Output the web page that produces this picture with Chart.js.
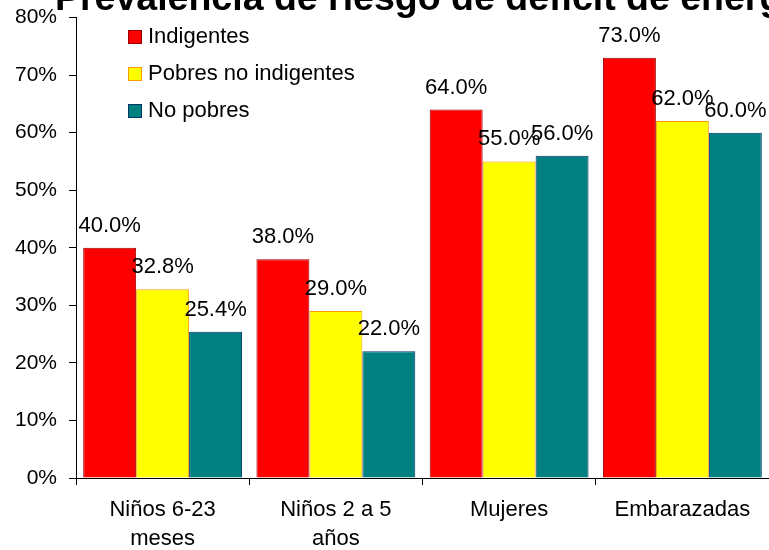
<!DOCTYPE html>
<html>
<head>
<meta charset="utf-8">
<script src="https://cdn.jsdelivr.net/npm/chart.js@4.4.1/dist/chart.umd.min.js"></script>
<style>
  html, body { margin: 0; padding: 0; background: #ffffff; }
  #wrap { width: 769px; height: 550px; overflow: hidden; }
</style>
</head>
<body>
<div id="wrap"><canvas id="c" width="769" height="550"></canvas></div>
<script>
// Population groups on the category axis (multi-line labels)
const categories = [["Niños 6-23", "meses"], ["Niños 2 a 5", "años"], ["Mujeres"], ["Embarazadas"]];

// Prevalence (%) per poverty level
const indigentes = [40.0, 38.0, 64.0, 73.0];
const pobresNoIndigentes = [32.8, 29.0, 55.0, 62.0];
const noPobres = [25.4, 22.0, 56.0, 60.0];

const seriesNames = ["Indigentes", "Pobres no indigentes", "No pobres"];
const yTicks = [0, 10, 20, 30, 40, 50, 60, 70, 80];

const titleText = "Prevalencia de riesgo de déficit de energía";
const FONT = "Arial, 'Liberation Sans', sans-serif";

// Heading drawn at the very top edge of the canvas
const titlePlugin = {
  id: 'topTitle',
  afterDraw(chart) {
    const ctx = chart.ctx;
    ctx.save();
    ctx.font = "bold 37.5px " + FONT;
    ctx.fillStyle = "#000";
    ctx.textAlign = "left";
    ctx.textBaseline = "alphabetic";
    ctx.fillText(titleText, 55, 10);
    ctx.restore();
  }
};

// Value labels above each bar
const valueLabels = {
  id: 'valueLabels',
  afterDatasetsDraw(chart) {
    const ctx = chart.ctx;
    ctx.save();
    ctx.font = "22px " + FONT;
    ctx.fillStyle = "#000";
    ctx.textAlign = "center";
    ctx.textBaseline = "alphabetic";
    chart.data.datasets.forEach((ds, i) => {
      const meta = chart.getDatasetMeta(i);
      meta.data.forEach((bar, j) => {
        ctx.fillText(ds.data[j].toFixed(1) + "%", bar.x, bar.y - 16);
      });
    });
    ctx.restore();
  }
};

// Legend inside the plot area, upper left
const innerLegend = {
  id: 'innerLegend',
  afterDraw(chart) {
    const ctx = chart.ctx;
    ctx.save();
    ctx.font = "22px " + FONT;
    ctx.textAlign = "left";
    ctx.textBaseline = "alphabetic";
    chart.data.datasets.forEach((ds, i) => {
      const y = 30 + i * 37;
      ctx.fillStyle = ds.backgroundColor;
      ctx.fillRect(128, y, 14, 14);
      ctx.strokeStyle = ds.borderColor;
      ctx.lineWidth = 1;
      ctx.strokeRect(128.5, y + 0.5, 13, 13);
      ctx.fillStyle = "#000";
      ctx.fillText(ds.label, 148, y + 12.5);
    });
    ctx.restore();
  }
};

new Chart(document.getElementById('c'), {
  type: 'bar',
  data: {
    labels: categories,
    datasets: [
      { label: seriesNames[0], data: indigentes, backgroundColor: "#FF0000", borderColor: "#990000", borderWidth: 1 },
      { label: seriesNames[1], data: pobresNoIndigentes, backgroundColor: "#FFFF00", borderColor: "#FF9900", borderWidth: 1 },
      { label: seriesNames[2], data: noPobres, backgroundColor: "#008080", borderColor: "#003366", borderWidth: 1 }
    ]
  },
  options: {
    responsive: false,
    animation: false,
    layout: { padding: { top: 17.5, right: 0, left: 0, bottom: 0 } },
    datasets: { bar: { categoryPercentage: 0.917, barPercentage: 1.0 } },
    plugins: {
      legend: { display: false },
      title: { display: false },
      tooltip: { enabled: false }
    },
    scales: {
      x: {
        offset: true,
        grid: { display: true, offset: true, drawOnChartArea: false, drawTicks: true, tickLength: 7, color: "#000" },
        border: { display: true, color: "#000", width: 1 },
        ticks: { color: "#000", font: { family: FONT, size: 22, lineHeight: 1.32 }, padding: 10, maxRotation: 0, autoSkip: false },
        afterFit(scale) { scale.height = 72; scale.paddingLeft = 0; scale.paddingRight = 0; }
      },
      y: {
        min: 0,
        max: 80,
        afterBuildTicks(scale) { scale.ticks = yTicks.map(v => ({ value: v })); },
        grid: { display: true, drawOnChartArea: false, drawTicks: true, tickLength: 7, color: "#000" },
        border: { display: true, color: "#000", width: 1 },
        ticks: { color: "#000", font: { family: FONT, size: 21 }, padding: 12, callback: v => v + "%" },
        afterFit(scale) { scale.width = 76; scale.paddingTop = 0; scale.paddingBottom = 0; }
      }
    }
  },
  plugins: [titlePlugin, valueLabels, innerLegend]
});
</script>
</body>
</html>
